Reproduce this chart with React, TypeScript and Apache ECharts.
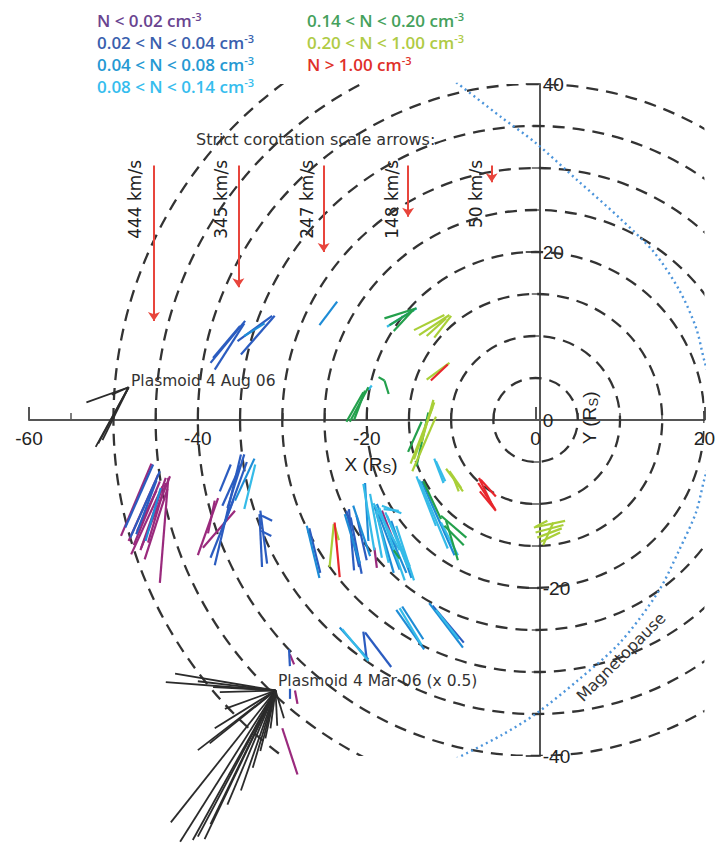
import React, { useEffect, useRef } from 'react';
import * as echarts from 'echarts';

// ---------- data (R_S units) ----------
const CIRCLE_RADII = [5, 10, 15, 20, 25, 30, 35, 40, 45, 50];

const DENSITY_LABELS = [
  'N < 0.02 cm',
  '0.02 < N < 0.04 cm',
  '0.04 < N < 0.08 cm',
  '0.08 < N < 0.14 cm',
  '0.14 < N < 0.20 cm',
  '0.20 < N < 1.00 cm',
  'N > 1.00 cm',
];
const DENSITY_TEXT_COLORS = ['#6a4490', '#3a5fae', '#2599d3', '#36bdee', '#45a15c', '#afcb45', '#e0302a'];
const DENSITY_LINE_COLORS = ['#9a2a7d', '#2b5cc0', '#1e8cd6', '#35bbe8', '#23a04c', '#a9cf38', '#e8262c'];

// flow vectors: [x1, y1, x2, y2]
const VEC_N0 = [
  [-49.1, -13.8, -45.5, -5.2], [-48.2, -14.4, -44.7, -6.5], [-47.6, -14.9, -44.5, -7.3],
  [-46.8, -15.5, -43.8, -6.9], [-46.7, -15.2, -43.3, -6.7], [-44.5, -19.4, -43.5, -6.9],
  [-45.9, -14.6, -43.8, -7.5], [-47.2, -13.2, -44.9, -8.4], [-47.9, -16, -44.2, -7.9], [-46.3, -16.6, -43.6, -8.2],
  [-40, -16.1, -37.6, -9.3], [-39.4, -15.2, -35.6, -10.8],
  [-38.8, -13.5, -38, -9.6], [-18.2, -10.8, -16.5, -15.2], [-19.1, -15.2, -18.8, -17.6],
  [-29.1, -27.9, -28.6, -29.1], [-28.5, -32.2, -28.2, -33.8], [-30, -36.7, -28.2, -42.2],
];
const VEC_N1 = [
  [-38.5, 6.8, -34.4, 11.8], [-38, 6, -34.5, 11.5], [-38.2, 7.4, -35, 11.2], [-35.3, 9.4, -31.2, 12.4], [-34.9, 7.8, -30.9, 12.4],
  [-48.6, -12.8, -45.3, -5.3], [-48, -14, -44.5, -6.1], [-47.3, -13.6, -44.9, -7.2],
  [-38, -17.3, -34.9, -4.1], [-37.4, -8.5, -36.1, -5.3], [-37.1, -10.2, -34.9, -5.3], [-36.5, -10.5, -34.5, -4.1],
  [-36.9, -12.5, -34.2, -5], [-38.5, -16.4, -35.8, -9.6],
  [-32.7, -11.2, -32.4, -17.5], [-32.6, -10.8, -31.8, -17.1], [-32.4, -11.4, -31.2, -12], [-32.5, -13.2, -31.3, -13.8],
  [-22.4, -10.8, -20.9, -17.5], [-22.1, -10.6, -21.5, -17.9], [-26.8, -12.9, -25.5, -18.2], [-21.2, -11.4, -20, -16.7],
  [-21.9, -11.6, -20.6, -18.3],
  [-20.4, -25.2, -20, -28.5], [-20.2, -25.3, -17.1, -29.4], [-12.2, -22.1, -8.5, -26.5],
  [-29.2, -27.3, -29.1, -29.3], [-29.1, -32, -29.1, -33.2],
];
const VEC_N2 = [
  [-34.5, 10, -32.1, 11.5], [-25.6, 11.3, -23.5, 14.1], [-46.2, -14.4, -44.4, -8.1], [-35.6, -9.6, -33.3, -4.6],
  [-20.2, -7.5, -19.8, -14.4], [-22.6, -11.2, -20.8, -17.1], [-18.8, -10, -15.3, -18.2], [-19.1, -10.2, -16.8, -18.2],
  [-27.1, -12.6, -25.6, -18.8], [-17.1, -12, -14.7, -18.8], [-21.6, -10.2, -19.6, -16.2], [-18.6, -11.2, -16.1, -17.8],
  [-23.2, -24.7, -19.8, -28.5], [-16.5, -22.6, -13.2, -27.3], [-15.8, -22.2, -13.3, -26.1], [-12.6, -21.8, -8.6, -27.1],
  [-13.5, -7.3, -9.6, -16.1],
];
const VEC_N3 = [
  [-34.5, -10.6, -33.2, -5.3],
  [-20.4, -7.6, -19.1, -15.5], [-19.2, -9.9, -16.1, -15.5], [-18.5, -10.5, -15.5, -19.1], [-18.2, -10.2, -15.9, -11.1],
  [-18, -10.6, -16.2, -10.8], [-17.6, -11.4, -15.1, -17.6], [-16.5, -12.6, -14.4, -19.1], [-18.9, -10.8, -17.4, -17],
  [-19.6, -8.8, -18.2, -16.4], [-17.8, -11, -14.9, -17.4],
  [-22.9, -24.9, -19.8, -28.7], [-16.1, -22.4, -13.5, -26.8], [-11.8, -22.6, -9.1, -26.1],
  [-12, -4.6, -10.9, -7.5], [-11.8, -4.9, -10.7, -7.3],
  [-14.1, -6.7, -11.8, -12.6], [-13.8, -7.1, -10.4, -15.3], [-11.2, -12.2, -9.2, -16.1],
  [-17.6, 11.1, -14.1, 13.3], [-19.8, 3.6, -19.4, 4.1],
];
const VEC_N4 = [
  [-17.9, 12.1, -14.1, 13.3], [-17.3, 11.3, -14.4, 13.1], [-16.8, 10.6, -14.7, 12.9],
  [-18.6, 5.1, -17.9, 4.7], [-17.9, 4.7, -17.4, 3.1],
  [-22.4, -0.2, -20.4, 3.3], [-22, -0.2, -19.8, 3.9], [-21.5, 0, -20.2, 3.5],
  [-14.1, -5.5, -12.7, 0.9], [-15.1, -3.8, -13.5, -0.2],
  [-13.3, -7.3, -11.2, -11.8], [-11.2, -11.4, -8.2, -14], [-10.8, -12.6, -8.5, -14.9], [-10.6, -12, -9.2, -16.7],
  [-16.8, -15.5, -16.1, -16.5],
];
const VEC_N5 = [
  [-14.4, 10.7, -10.8, 12.5], [-13.8, 10.1, -10.2, 12.5], [-12.9, 10, -10.6, 12.1], [-12, 9.8, -10, 12.4],
  [-12.9, 4.8, -10.2, 6.8],
  [-14.8, -5.2, -12.2, 1.5], [-14.4, -4.7, -12, 2.1], [-14.6, -6.1, -11.8, 0.4], [-13.5, -2.6, -12.1, 2.4],
  [-10.6, -5.8, -8.6, -8.5], [-10.2, -6.1, -8.8, -8.1], [-9.8, -6.7, -9.1, -8.5],
  [-0.2, -12.8, 3.5, -12], [0, -13.4, 3.3, -12.5], [0.2, -14, 3.1, -12.9], [0.6, -14.5, 2.9, -13.4],
  [0.9, -14.9, 2.1, -12.2], [0, -12.7, 1.4, -12],
  [-23.8, -12.6, -23.3, -14.3], [-23.9, -12.4, -24.4, -17.5],
];
const VEC_N6 = [
  [-12.4, 4.7, -10.4, 6.6],
  [-6.7, -6.9, -5.1, -10.2], [-6.8, -7.5, -4.8, -10.6], [-6.6, -8.5, -4.7, -10.8], [-6.5, -7.1, -4.7, -9.1],
  [-23.8, -12.2, -23.2, -18.7],
];
const VECTORS_BY_DENSITY = [VEC_N0, VEC_N1, VEC_N2, VEC_N3, VEC_N4, VEC_N5, VEC_N6];

// plasmoid events (black)
const PLASMOID_AUG_ORIGIN = [-48.2, 3.9];
const PLASMOID_AUG_ENDS = [[-53.2, 2.1], [-52.1, -3.2], [-51.8, -2.8], [-51.3, -2.4], [-50.2, 3.0]];
const PLASMOID_MAR_ORIGIN = [-30.8, -32.2];
const PLASMOID_MAR_ENDS = [
  [-43.8, -31.2], [-42.7, -30.2], [-40, -31.1], [-38.2, -31.8], [-37.4, -32.4], [-36.8, -34.4],
  [-38, -36.7], [-40, -39.3], [-38.6, -38.5], [-43.2, -47.9], [-42.1, -50.2], [-40.6, -50],
  [-40, -49.6], [-39.2, -49.9], [-38.5, -48.1], [-36.5, -45.8], [-34.9, -44.1], [-33.5, -41.4],
  [-32.6, -39.4], [-31.4, -36.7], [-30.6, -36.4], [-29.8, -35.5], [-32, -37.9],
];

// corotation scale arrows
const SPEED_LABELS = ['444 km/s', '345 km/s', '247 km/s', '148 km/s', '50 km/s'];
const ARROW_X = [-45.2, -35.2, -25.1, -15.1, -5.2];
const ARROW_TOP = 30.3;
const ARROW_END_Y = [11.8, 15.8, 20, 24.2, 28.3];

// magnetopause (dotted)
const MP_X = [-9.4, -4, 0, 5, 10, 14, 17, 19, 20, 22, 20, 19, 17, 14.5, 10, 5, 0, -4, -9.6];
const MP_Y = [40.2, 36, 33, 28.5, 24, 20, 15.5, 11, 7, 0, -7, -11, -15.5, -20.5, -26.5, -31, -35, -37.5, -40.4];

const SANS = 'DejaVu Sans';
const GRID = { left: 29, top: 84, width: 681, height: 672 };

export default function App() {
  const ref = useRef<HTMLDivElement>(null);
  useEffect(() => {
    if (!ref.current) return;
    const chart = echarts.init(ref.current, undefined, { renderer: 'svg' });

    // axis placement so both axes cross at the origin (0, 0)
    const xAxisOffset = -(GRID.height * 40) / 80;
    const yAxisOffset = -(GRID.width * 60) / 80;

    const densitySeries = VECTORS_BY_DENSITY.map((vecs, i) => ({
      type: 'lines',
      coordinateSystem: 'cartesian2d',
      name: DENSITY_LABELS[i],
      polyline: false,
      clip: false,
      silent: true,
      z: 5,
      lineStyle: { color: DENSITY_LINE_COLORS[i], width: 2.2, opacity: 1 },
      data: vecs.map((v) => ({ coords: [[v[0], v[1]], [v[2], v[3]]] })),
    }));

    const plasmoidData = [
      ...PLASMOID_AUG_ENDS.map((e) => ({ coords: [PLASMOID_AUG_ORIGIN, e] })),
      ...PLASMOID_MAR_ENDS.map((e) => ({ coords: [PLASMOID_MAR_ORIGIN, e] })),
    ];

    const legendGraphics: any[] = DENSITY_LABELS.map((lab, i) => ({
      type: 'text',
      x: i < 4 ? 97 : 307,
      y: 20 + (i < 4 ? i : i - 4) * 22,
      style: {
        text: lab + '{sup|-3}',
        fill: DENSITY_TEXT_COLORS[i],
        fontFamily: 'Open Sans',
        fontWeight: 600,
        fontSize: 17,
        lineHeight: 18,
        verticalAlign: 'middle',
        rich: { sup: { fontSize: 11, lineHeight: 11, fontWeight: 600, verticalAlign: 'top', fill: DENSITY_TEXT_COLORS[i], fontFamily: 'Open Sans' } },
      },
    }));

    const arrowPx = [155, 241, 327, 412, 496];
    const speedGraphics = SPEED_LABELS.map((s, i) => ({
      type: 'text',
      x: arrowPx[i] - 20,
      y: 160,
      rotation: Math.PI / 2,
      style: { text: s, fill: '#222', fontFamily: SANS, fontSize: 17, align: 'right', verticalAlign: 'middle' },
    }));

    chart.setOption({
      animation: false,
      grid: { ...GRID, containLabel: false },
      xAxis: {
        type: 'value', min: -60, max: 20, interval: 20, position: 'bottom', offset: xAxisOffset,
        axisLine: { onZero: false, lineStyle: { color: '#555', width: 2 } },
        axisTick: { inside: true, length: 13, lineStyle: { color: '#555', width: 2 } },
        minorTick: { show: true, splitNumber: 4, length: 7, lineStyle: { color: '#555', width: 1.5 } },
        axisLabel: { fontSize: 19, color: '#222', margin: 9, fontFamily: 'Liberation Sans' },
        splitLine: { show: false },
        minorSplitLine: { show: false },
      },
      yAxis: {
        type: 'value', min: -40, max: 40, interval: 20, position: 'left', offset: yAxisOffset,
        axisLine: { onZero: false, lineStyle: { color: '#555', width: 2 } },
        axisTick: { inside: false, length: 14, lineStyle: { color: '#555', width: 2 } },
        minorTick: { show: true, splitNumber: 4, length: 8, lineStyle: { color: '#555', width: 1.5 } },
        axisLabel: { inside: true, fontSize: 19, color: '#222', margin: 3, fontFamily: 'Liberation Sans' },
        splitLine: { show: false },
        minorSplitLine: { show: false },
      },
      series: [
        {
          type: 'custom',
          coordinateSystem: 'cartesian2d',
          silent: true,
          z: 1,
          data: CIRCLE_RADII.map((r) => [r, 0]),
          renderItem: (params: any, api: any) => {
            const r = api.value(0);
            const c = api.coord([0, 0]);
            const s = api.size([r, r]);
            const cs = params.coordSys;
            return {
              type: 'ellipse',
              shape: { cx: c[0], cy: c[1], rx: s[0], ry: s[1] },
              style: { fill: 'none', stroke: '#333', lineWidth: 2.3, lineDash: [12, 8] },
              clipPath: { type: 'rect', shape: { x: cs.x, y: cs.y, width: cs.width, height: cs.height } },
            };
          },
        },
        {
          type: 'line',
          name: 'Magnetopause',
          data: MP_X.map((x, i) => [x, MP_Y[i]]),
          showSymbol: false,
          smooth: 0.3,
          clip: true,
          silent: true,
          z: 2,
          lineStyle: { color: '#4d95db', width: 2.4, type: [2, 3.5] },
        },
        ...densitySeries,
        {
          type: 'lines',
          coordinateSystem: 'cartesian2d',
          name: 'Plasmoids',
          clip: false,
          silent: true,
          z: 4,
          lineStyle: { color: '#2b2b2b', width: 1.8, opacity: 1 },
          data: plasmoidData,
        },
        {
          type: 'lines',
          coordinateSystem: 'cartesian2d',
          name: 'Corotation',
          clip: false,
          silent: true,
          z: 6,
          symbol: ['none', 'arrow'],
          symbolSize: 9,
          lineStyle: { color: '#e8453c', width: 2, opacity: 1 },
          data: ARROW_X.map((x, i) => ({ coords: [[x, ARROW_TOP], [x, ARROW_END_Y[i]]] })),
        },
      ],
      graphic: [
        ...legendGraphics,
        ...speedGraphics,
        {
          type: 'text', x: 196, y: 139,
          style: { text: 'Strict corotation scale arrows:', fill: '#333', fontFamily: SANS, fontSize: 16, verticalAlign: 'middle' },
        },
        {
          type: 'text', x: 131, y: 381,
          style: { text: 'Plasmoid 4 Aug 06', fill: '#333', fontFamily: SANS, fontSize: 15.5, verticalAlign: 'middle' },
        },
        {
          type: 'text', x: 278, y: 681,
          style: { text: 'Plasmoid 4 Mar 06 (x 0.5)', fill: '#333', fontFamily: SANS, fontSize: 15.5, verticalAlign: 'middle' },
        },
        {
          type: 'text', x: 621, y: 657, rotation: Math.PI / 4,
          style: { text: 'Magnetopause', fill: '#333', fontFamily: SANS, fontSize: 16, align: 'center', verticalAlign: 'middle' },
        },
        {
          type: 'text', x: 371, y: 464,
          style: {
            text: 'X (R{sub|S})', fill: '#222', fontFamily: 'Liberation Sans', fontSize: 19, lineHeight: 22,
            align: 'center', verticalAlign: 'middle',
            rich: { sub: { fontSize: 13, lineHeight: 13, verticalAlign: 'bottom', fill: '#222', fontFamily: 'Liberation Sans' } },
          },
        },
        {
          type: 'text', x: 589, y: 418, rotation: Math.PI / 2,
          style: {
            text: 'Y (R{sub|S})', fill: '#222', fontFamily: 'Liberation Sans', fontSize: 19, lineHeight: 22,
            align: 'center', verticalAlign: 'middle', backgroundColor: '#fff', padding: [0, 2],
            rich: { sub: { fontSize: 13, lineHeight: 13, verticalAlign: 'bottom', fill: '#222', fontFamily: 'Liberation Sans' } },
          },
        },
      ],
    });
    return () => chart.dispose();
  }, []);
  return <div ref={ref} style={{ position: 'fixed', left: 0, top: 0, width: 718, height: 846, background: '#fff' }} />;
}
